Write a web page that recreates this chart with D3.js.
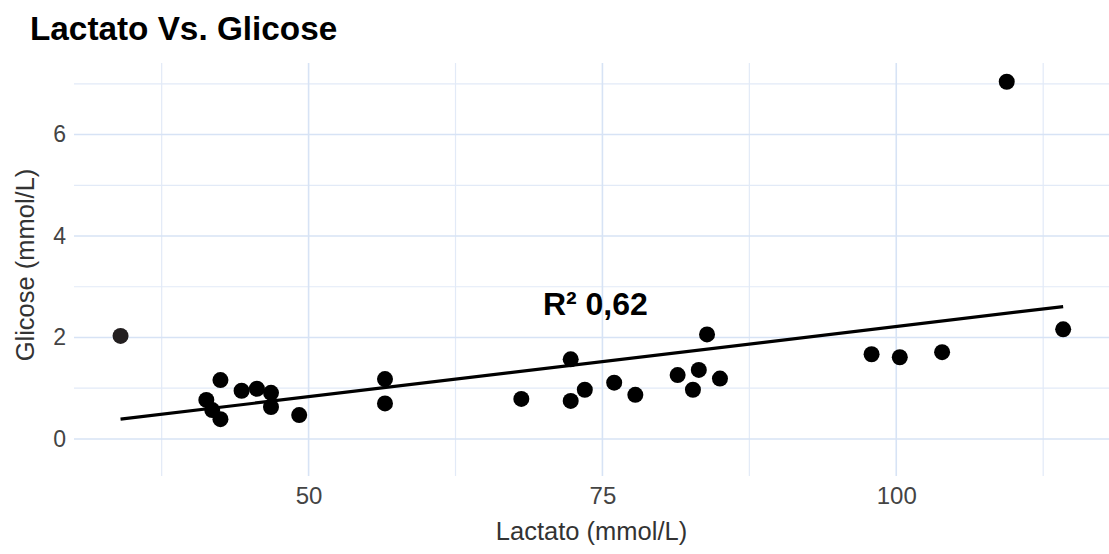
<!DOCTYPE html>
<html>
<head>
<meta charset="utf-8">
<script src="https://cdn.jsdelivr.net/npm/d3@7"></script>
<style>
  body { margin: 0; background: #fff; }
  svg { display: block; font-family: "Liberation Sans", Arial, sans-serif; }
</style>
</head>
<body>
<div id="chart"></div>
<script>
// Données
const lactato = [34.0, 41.3, 41.8, 42.5, 42.5, 44.3, 45.6, 46.8, 46.8, 49.2,
    56.5, 56.5, 68.1, 72.3, 72.3, 73.5, 76.0, 77.8, 81.4, 82.7,
    83.2, 83.9, 85.0, 97.9, 100.3, 103.9, 109.4, 114.2]
const glicose = [2.03, 0.77, 0.57, 0.39, 1.16, 0.95, 0.99, 0.91, 0.63, 0.47,
    1.18, 0.70, 0.79, 1.57, 0.75, 0.97, 1.11, 0.87, 1.26, 0.97,
    1.36, 2.06, 1.19, 1.67, 1.61, 1.71, 7.04, 2.16]

// droite de régression (extrémités lues)
const fitX = [34.0, 114.2]
const fitY = [0.39, 2.61]

const xTicks = [50, 75, 100]
const xMinor = [37.5, 62.5, 87.5, 112.5]
const yTicks = [0, 2, 4, 6]
const yMinor = [1, 3, 5, 7]

const r2Label = 'R² 0,62'

// Constantes
const W = 1109, H = 554
const margin = { top: 63, right: 0, bottom: 78, left: 74 }
const width = W - margin.left - margin.right
const height = H - margin.top - margin.bottom

const svg = d3.select('#chart')
    .append('svg')
    .attr('width', W)
    .attr('height', H)

const g = svg.append('g')
    .attr('transform', 'translate(' + margin.left + ',' + margin.top + ')')

const x = d3.scaleLinear()
    .domain([30.04, 118.1])
    .range([0, width])

const y = d3.scaleLinear()
    .domain([-0.73, 7.41])
    .range([height, 0])

// grille mineure
g.append('g')
    .selectAll('line')
    .data(xMinor)
    .enter()
    .append('line')
    .attr('x1', d => x(d)).attr('x2', d => x(d))
    .attr('y1', 0).attr('y2', height)
    .attr('stroke', '#e2eaf7')
    .attr('stroke-width', 1.2)

g.append('g')
    .selectAll('line')
    .data(yMinor)
    .enter()
    .append('line')
    .attr('y1', d => y(d)).attr('y2', d => y(d))
    .attr('x1', 0).attr('x2', width)
    .attr('stroke', '#e2eaf7')
    .attr('stroke-width', 1.2)

// grille majeure
g.append('g')
    .selectAll('line')
    .data(xTicks)
    .enter()
    .append('line')
    .attr('x1', d => x(d)).attr('x2', d => x(d))
    .attr('y1', 0).attr('y2', height)
    .attr('stroke', '#d7e3f5')
    .attr('stroke-width', 1.6)

g.append('g')
    .selectAll('line')
    .data(yTicks)
    .enter()
    .append('line')
    .attr('y1', d => y(d)).attr('y2', d => y(d))
    .attr('x1', 0).attr('x2', width)
    .attr('stroke', '#d7e3f5')
    .attr('stroke-width', 1.6)

// axes (sans traits, seulement les labels)
const xAxis = g.append('g')
    .attr('transform', 'translate(0,' + height + ')')
    .call(d3.axisBottom(x).tickValues(xTicks).tickSize(0).tickPadding(11))
xAxis.select('.domain').remove()
xAxis.selectAll('text')
    .attr('font-size', 24)
    .attr('font-family', '"Liberation Sans", Arial, sans-serif')
    .attr('fill', '#444')

const yAxis = g.append('g')
    .call(d3.axisLeft(y).tickValues(yTicks).tickSize(0).tickPadding(8))
yAxis.select('.domain').remove()
yAxis.selectAll('text')
    .attr('font-size', 23)
    .attr('font-family', '"Liberation Sans", Arial, sans-serif')
    .attr('fill', '#444')

// droite de régression
g.append('path')
    .datum(d3.zip(fitX, fitY))
    .attr('d', d3.line().x(d => x(d[0])).y(d => y(d[1])))
    .attr('fill', 'none')
    .attr('stroke', 'black')
    .attr('stroke-width', 3.2)

// points
g.append('g')
    .selectAll('circle')
    .data(d3.zip(lactato, glicose))
    .enter()
    .append('circle')
    .attr('cx', d => x(d[0]))
    .attr('cy', d => y(d[1]))
    .attr('r', 8)
    .attr('fill', (d, i) => i == 0 ? '#231f20' : 'black')

// R²
g.append('text')
    .attr('x', x(74.4))
    .attr('y', y(2.44))
    .attr('text-anchor', 'middle')
    .attr('font-size', 32)
    .attr('font-weight', 'bold')
    .text(r2Label)

// titres
svg.append('text')
    .attr('x', 30)
    .attr('y', 40)
    .attr('font-size', 33.3)
    .attr('font-weight', 'bold')
    .text('Lactato Vs. Glicose')

svg.append('text')
    .attr('x', margin.left + width / 2)
    .attr('y', 540)
    .attr('text-anchor', 'middle')
    .attr('font-size', 25.5)
    .attr('fill', '#333')
    .text('Lactato (mmol/L)')

svg.append('text')
    .attr('transform', 'translate(34,' + 265 + ') rotate(-90)')
    .attr('text-anchor', 'middle')
    .attr('font-size', 25.5)
    .attr('fill', '#333')
    .text('Glicose (mmol/L)')
</script>
</body>
</html>
